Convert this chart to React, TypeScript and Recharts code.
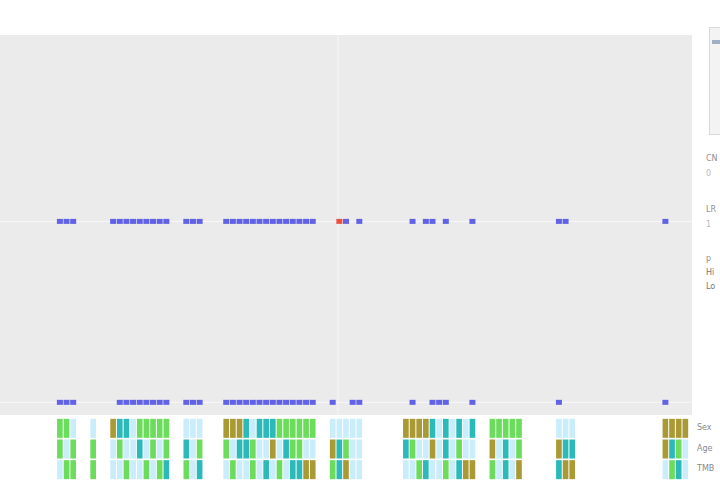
import { ComposedChart, Scatter, XAxis, YAxis, ReferenceLine } from 'recharts';

// x positions (sample index) of marks in the upper track
const upperPos = [9, 10, 11, 17, 18, 19, 20, 21, 22, 23, 24, 25, 28, 29, 30, 34, 35, 36, 37, 38, 39, 40, 41, 42, 43, 44, 45, 46, 47, 51, 52, 54, 62, 64, 65, 67, 71, 84, 85, 100];
const lowerPos = [9, 10, 11, 18, 19, 20, 21, 22, 23, 24, 25, 28, 29, 30, 34, 35, 36, 37, 38, 39, 40, 41, 42, 43, 44, 45, 46, 47, 50, 53, 54, 62, 65, 66, 67, 71, 84, 100];
const highlighted = [51];

// annotation tiles under the panel
const tileCols = [
  9, 10, 11, 14, 17, 18, 19, 20, 21, 22, 23, 24, 25, 28, 29, 30,
  34, 35, 36, 37, 38, 39, 40, 41, 42, 43, 44, 45, 46, 47,
  50, 51, 52, 53, 54, 61, 62, 63, 64, 65, 66, 67, 68, 69, 70, 71,
  74, 75, 76, 77, 78, 84, 85, 86, 100, 101, 102, 103,
];
const row1 = [
  'G', 'G', 'C', 'C', 'O', 'T', 'T', 'C', 'G', 'G', 'G', 'G', 'G', 'C', 'C', 'C',
  'O', 'O', 'O', 'T', 'C', 'T', 'T', 'T', 'G', 'G', 'G', 'G', 'G', 'G',
  'C', 'C', 'C', 'C', 'C', 'O', 'O', 'O', 'O', 'T', 'C', 'T', 'C', 'T', 'C', 'T',
  'G', 'G', 'G', 'G', 'G', 'C', 'C', 'C', 'O', 'O', 'O', 'O',
];
const row2 = [
  'G', 'C', 'G', 'G', 'C', 'G', 'C', 'C', 'T', 'C', 'G', 'C', 'G', 'T', 'C', 'G',
  'G', 'C', 'T', 'T', 'G', 'C', 'C', 'O', 'C', 'T', 'G', 'G', 'C', 'C',
  'O', 'T', 'G', 'C', 'C', 'T', 'G', 'C', 'C', 'O', 'C', 'T', 'C', 'G', 'C', 'C',
  'O', 'C', 'T', 'C', 'G', 'O', 'T', 'T', 'O', 'T', 'G', 'C',
];
const row3 = [
  'C', 'G', 'G', 'G', 'C', 'C', 'G', 'C', 'C', 'G', 'C', 'G', 'T', 'G', 'C', 'T',
  'C', 'G', 'C', 'C', 'G', 'C', 'T', 'C', 'G', 'C', 'T', 'T', 'O', 'O',
  'G', 'T', 'O', 'C', 'C', 'C', 'C', 'G', 'T', 'C', 'C', 'G', 'C', 'T', 'O', 'O',
  'G', 'C', 'T', 'C', 'O', 'T', 'O', 'O', 'C', 'G', 'T', 'C',
];
const rowLabels = ['Sex', 'Age', 'TMB'];

const palette: Record<string, string> = {
  G: '#6bdc5c',
  T: '#2bb9b9',
  O: '#a99a36',
  C: '#c9edfb',
};

const W = 692;
const X_MAX = 104;
const CELL_W = W / X_MAX;

const upperData = upperPos.map((x) => ({ x, y: 1, hit: highlighted.includes(x) }));
const lowerData = lowerPos.map((x) => ({ x, y: 0, hit: false }));
const tileData = tileCols.flatMap((x, i) => [
  { x, y: 0, c: row1[i] },
  { x, y: 1, c: row2[i] },
  { x, y: 2, c: row3[i] },
]);

const Dot = (p: any) => (
  <rect x={p.cx - 3} y={p.cy - 2.5} width={6} height={5} fill={p.payload.hit ? '#ee5040' : '#6262e6'} />
);

const Tile = (p: any) => (
  <rect x={p.cx - CELL_W / 2 + 0.5} y={p.cy - 9.5} width={CELL_W - 1} height={19} fill={palette[p.payload.c]} />
);

export default function App() {
  return (
    <div style={{ position: 'absolute', left: 0, top: 0, width: 720, height: 480, overflow: 'hidden', background: '#fff', fontFamily: 'DejaVu Sans, sans-serif' }}>
      <div style={{ position: 'absolute', left: 0, top: 0 }}>
        <ComposedChart width={W} height={415} margin={{ top: 35, right: 0, bottom: 0, left: 0 }}>
          <rect x={0} y={35} width={W} height={380} fill="#ebebeb" />
          <XAxis type="number" dataKey="x" domain={[0, X_MAX]} hide />
          <YAxis type="number" dataKey="y" domain={[-0.07, 2.03]} hide />
          <ReferenceLine y={1} stroke="#f7f7f7" strokeWidth={1} />
          <ReferenceLine y={0} stroke="#f7f7f7" strokeWidth={1} />
          <ReferenceLine x={50.8} stroke="#f7f7f7" strokeWidth={1} />
          <Scatter data={lowerData} shape={Dot} isAnimationActive={false} />
          <Scatter data={upperData} shape={Dot} isAnimationActive={false} />
        </ComposedChart>
      </div>
      <div style={{ position: 'absolute', left: 0, top: 418 }}>
        <ComposedChart width={W} height={62} margin={{ top: 0, right: 0, bottom: 0, left: 0 }}>
          <XAxis type="number" dataKey="x" domain={[0, X_MAX]} hide />
          <YAxis type="number" dataKey="y" domain={[-0.5, 2.5]} reversed hide />
          <Scatter data={tileData} shape={Tile} isAnimationActive={false} />
        </ComposedChart>
      </div>
      {rowLabels.map((t, i) => (
        <div key={t} style={{ position: 'absolute', left: 697, top: 423 + i * 20.5, fontSize: 8, color: '#8a8a8a', whiteSpace: 'nowrap' }}>
          {t}
        </div>
      ))}
      <div style={{ position: 'absolute', left: 709, top: 27, width: 40, height: 106, border: '1px solid #d9d9d9', background: '#f3f3f3' }}>
        <div style={{ position: 'absolute', left: 2, top: 12, width: 36, height: 4, background: '#9fb0c4' }} />
      </div>
      <div style={{ position: 'absolute', left: 706, top: 151, fontSize: 8, color: '#8f8f8f', lineHeight: '15px', whiteSpace: 'nowrap' }}>
        <div>CN</div>
        <div style={{ color: '#bbb' }}>0</div>
      </div>
      <div style={{ position: 'absolute', left: 706, top: 202, fontSize: 8, color: '#8f8f8f', lineHeight: '15px', whiteSpace: 'nowrap' }}>
        <div>LR</div>
        <div style={{ color: '#bbb' }}>1</div>
      </div>
      <div style={{ position: 'absolute', left: 706, top: 252, fontSize: 8, color: '#8f8f8f', lineHeight: '14px', whiteSpace: 'nowrap' }}>
        <div>p</div>
        <div style={{ color: '#777' }}>Hi</div>
        <div style={{ color: '#777' }}>Lo</div>
      </div>
    </div>
  );
}
